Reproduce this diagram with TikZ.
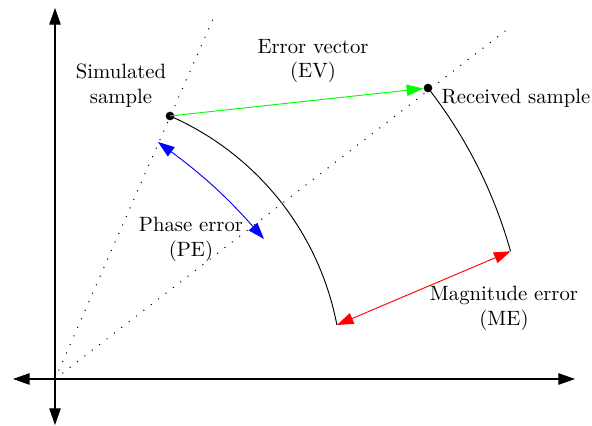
\documentclass[tikz,border=0pt]{standalone}
\usetikzlibrary{arrows.meta}
\begin{document}
\begin{tikzpicture}[x=0.483pt,y=0.483pt,
  axis/.style={line width=0.5pt,{Triangle[length=8pt,width=5.5pt]}-{Triangle[length=8pt,width=5.5pt]}},
  guide/.style={dash pattern=on 0.5pt off 4pt,line width=0.5pt},
  arcline/.style={line width=0.45pt},
  errarrow/.style={line width=0.45pt,{Triangle[length=8pt,width=5.5pt]}-{Triangle[length=8pt,width=5.5pt]}},
  evarrow/.style={line width=0.45pt,-{Triangle[length=8pt,width=5.5pt]}},
  sample/.style={circle,fill=black,inner sep=0pt,minimum size=4.2pt},
  lbl/.style={align=center,inner sep=1pt}]
\useasboundingbox (0,0) rectangle (592,426);
% axes
\coordinate (O) at (55,47);
\coordinate (xl) at (13,47);
\coordinate (xr) at (575,47);
\coordinate (yt) at (55,418);
\coordinate (yb) at (55,1);
\draw[axis] (xl) -- (xr);
\draw[axis] (yb) -- (yt);
% guide lines
\coordinate (g1) at (213,407);
\coordinate (g2) at (509,398);
\draw[guide] (O) -- (g1);
\draw[guide] (O) -- (g2);
% samples
\node[sample] (S) at (170,310) {};
\node[sample] (R) at (428,338) {};
% arcs
\draw[arcline] (S.center) arc[start angle=66.38, end angle=10.84, radius=287] coordinate (A);
\draw[arcline] (R.center) arc[start angle=37.96, end angle=15.68, radius=473.5] coordinate (B);
% error vector
\draw[evarrow,green] (S.center) -- (R);
% phase error
\coordinate (p1) at (158,284);
\coordinate (p2) at (264,187);
\draw[errarrow,blue] (p1) to[bend left=6] (p2);
% magnitude error
\draw[errarrow,red] (A) -- (B);
% labels
\node[lbl] (ls) at (121,340) {Simulated\\sample};
\node[lbl] (lev) at (313,365) {Error vector\\(EV)};
\node[lbl] (lr) at (516,328) {Received sample};
\node[lbl] (lpe) at (191,187) {Phase error\\(PE)};
\node[lbl] (lme) at (504,118) {Magnitude error\\(ME)};
\end{tikzpicture}
\end{document}
